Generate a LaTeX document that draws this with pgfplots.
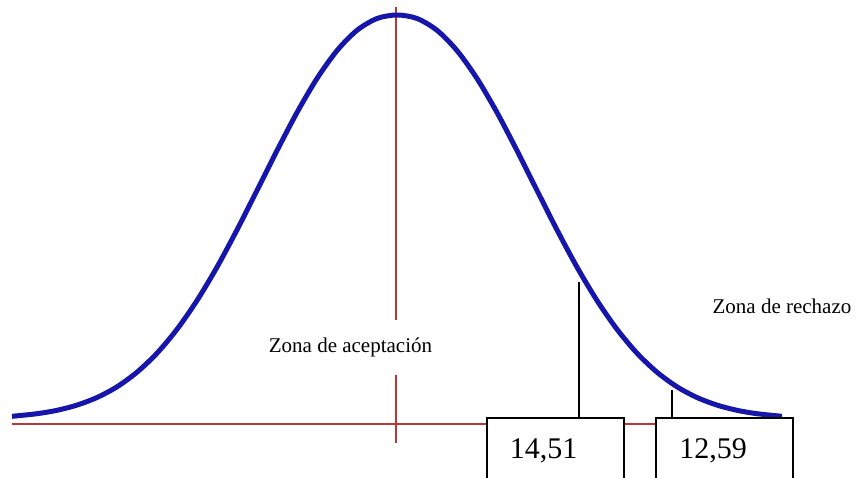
\documentclass[border=0pt]{standalone}
\usepackage{fontspec}
\setmainfont{Liberation Serif}
\usepackage{pgfplots}
\pgfplotsset{compat=1.18}
\definecolor{curveblue}{RGB}{22,22,170}
\definecolor{axred}{RGB}{185,55,55}
\begin{document}
\begin{tikzpicture}
\path[use as bounding box] (0,0) rectangle (428pt,238.5pt);
\begin{axis}[
  at={(0,0)}, anchor=south west,
  width=428pt, height=238.5pt, scale only axis,
  hide axis, clip=false,
  xmin=0, xmax=856,
  ymin=0, ymax=477,
]
% red reference lines
\addplot[axred, line width=0.8pt] coordinates {(12,53) (720,53)};
\addplot[axred, line width=0.7pt] coordinates {(396,470) (396,157)};
\addplot[axred, line width=0.7pt] coordinates {(396,102) (396,34)};
% bell curve
\addplot[curveblue, line width=2.5pt, smooth] coordinates {
(12,60.7) (37,63.3) (57,66.7) (77,71.9) (97,79.5) (117,90.2) (137,104.8)
(157,123.8) (177,147.7) (197,176.5) (217,209.9) (237,247.1) (257,286.6)
(277,326.4) (297,364.5) (317,398.5) (337,426.4) (357,446.7) (377,458.5)
(397,462) (417,458.5) (437,446.7) (457,426.4) (477,398.5) (497,364.5)
(517,326.4) (537,286.6) (557,247.1) (577,209.9) (597,176.5) (617,147.7)
(637,123.8) (657,104.8) (677,90.2) (697,79.5) (717,71.9) (737,66.7)
(757,63.3) (782,60.7)
};
% pointer lines
\addplot[black, line width=0.6pt] coordinates {(579,195) (579,59)};
\addplot[black, line width=0.6pt] coordinates {(672,87) (672,59)};
% value boxes
\draw[black, line width=0.8pt, fill=white] (axis cs:487,-30) rectangle (axis cs:624,59);
\draw[black, line width=0.8pt, fill=white] (axis cs:656,-30) rectangle (axis cs:793,59);
\node[anchor=base, inner sep=0pt, font=\fontsize{15}{18}\selectfont] at (axis cs:543.5,19) {14,51};
\node[anchor=base, inner sep=0pt, font=\fontsize{15}{18}\selectfont] at (axis cs:713,19) {12,59};
% zone labels
\node[anchor=base, inner sep=0pt, font=\fontsize{10.5}{12}\selectfont] at (axis cs:350.5,125) {Zona de aceptación};
\node[anchor=base, inner sep=0pt, font=\fontsize{10.5}{12}\selectfont] at (axis cs:782,164) {Zona de rechazo};
\end{axis}
\end{tikzpicture}
\end{document}
